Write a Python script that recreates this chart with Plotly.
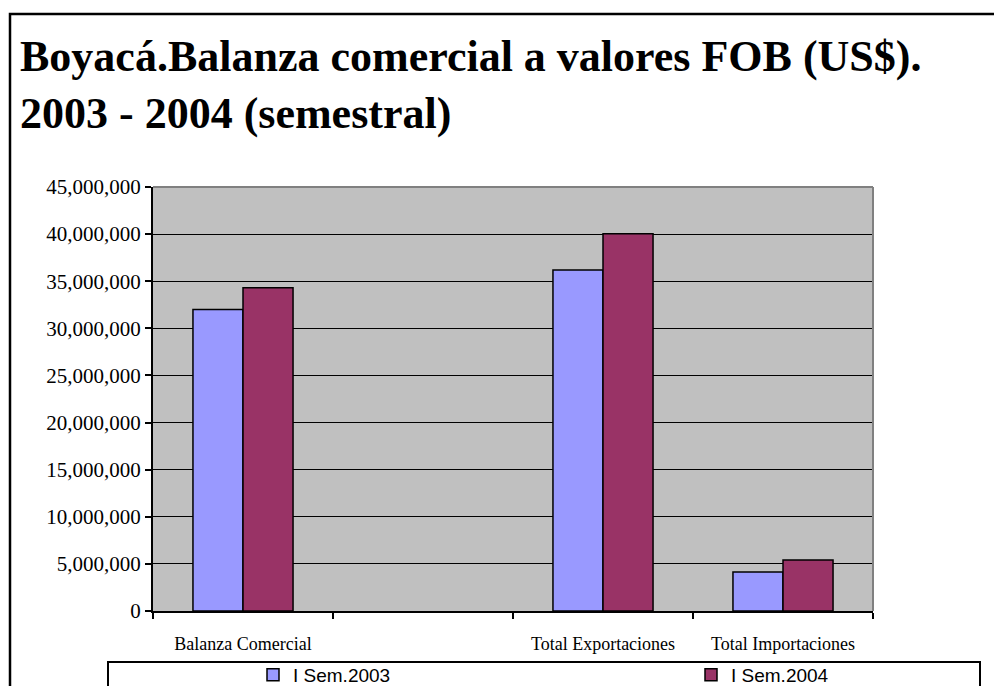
import plotly.graph_objects as go

categories = ["Balanza Comercial", " ", "Total Exportaciones", "Total Importaciones"]
sem_2003 = [32000000, None, 36200000, 4150000]
sem_2004 = [34300000, None, 40050000, 5400000]
series_names = ["I Sem.2003", "I Sem.2004"]
y_ticks = list(range(0, 45000001, 5000000))

W, H = 994, 686
L, R, T, B = 153, 873, 187, 611

def px(x):
    return (x - L) / (R - L)

def py(y):
    return (B - y) / (B - T)

fig = go.Figure()
fig.add_trace(go.Bar(x=categories, y=sem_2003, name=series_names[0], legend="legend",
                     marker=dict(color="#9999FF", line=dict(color="black", width=1.5))))
fig.add_trace(go.Bar(x=categories, y=sem_2004, name=series_names[1], legend="legend2",
                     marker=dict(color="#993366", line=dict(color="black", width=1.5))))

leg_common = dict(orientation="h", xanchor="left", yanchor="top",
                  font=dict(family="Liberation Sans", size=19, color="black"),
                  bgcolor="rgba(0,0,0,0)", borderwidth=0)

fig.update_layout(
    width=W, height=H,
    margin=dict(l=L, r=W - R, t=T, b=H - B, autoexpand=False),
    paper_bgcolor="white",
    plot_bgcolor="#C0C0C0",
    barmode="group", bargap=0.444, bargroupgap=0,
    showlegend=True,
    legend=dict(x=px(253), y=py(656), **leg_common),
    legend2=dict(x=px(691), y=py(656), **leg_common),
    xaxis=dict(type="category", categoryorder="array", categoryarray=categories,
               showline=True, linecolor="black", linewidth=2,
               ticks="outside", tickson="boundaries", ticklen=6, tickcolor="black", tickwidth=1.5,
               tickfont=dict(family="Liberation Serif", size=18, color="black"),
               ticklabelstandoff=15, showgrid=False),
    yaxis=dict(range=[0, 45000000], tickvals=y_ticks, tickformat=",d",
               showline=True, linecolor="black", linewidth=2,
               ticks="outside", ticklen=6, tickcolor="black", tickwidth=1.5,
               tickfont=dict(family="Liberation Serif", size=21, color="black"),
               showgrid=True, gridcolor="black", gridwidth=1, zeroline=False),
    shapes=[
        dict(type="rect", xref="paper", yref="paper", x0=px(10), x1=px(1010), y0=py(14), y1=py(720),
             line=dict(color="black", width=2.5), layer="above"),
        dict(type="line", xref="paper", yref="paper", x0=0, x1=1, y0=1, y1=1,
             line=dict(color="#808080", width=2)),
        dict(type="line", xref="paper", yref="paper", x0=1, x1=1, y0=0, y1=1,
             line=dict(color="#808080", width=2)),
        dict(type="rect", xref="paper", yref="paper", x0=px(108), x1=px(980), y0=py(662), y1=py(720),
             line=dict(color="black", width=2)),
    ],
    annotations=[
        dict(text="Boyacá.Balanza comercial a valores FOB (US$).<br>2003 - 2004 (semestral)",
             xref="paper", yref="paper", x=px(18), y=py(30), xanchor="left", yanchor="top",
             align="left", showarrow=False,
             font=dict(family="Liberation Serif", size=44, color="black", weight="bold")),
    ],
)

fig.write_html("out.html", config={"displayModeBar": False},
               post_script="document.body.style.margin='0';document.body.style.overflow='hidden';")
